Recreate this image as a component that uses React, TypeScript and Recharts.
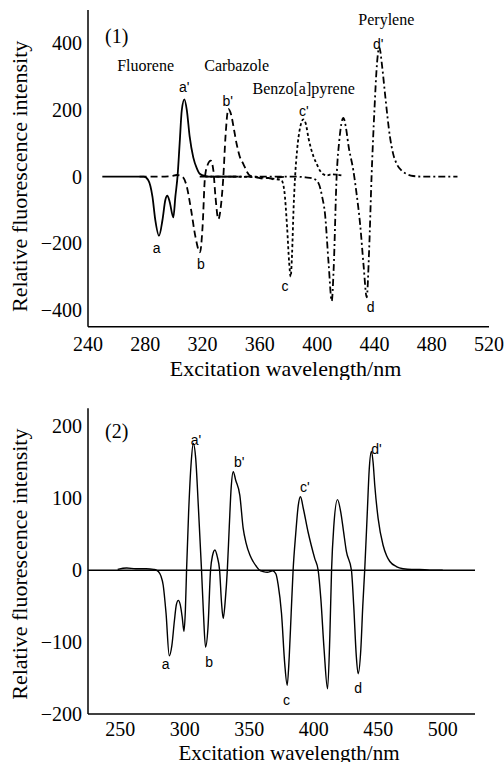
import React from 'react';
import { LineChart, Line, XAxis, YAxis, ReferenceDot, ReferenceLine } from 'recharts';

// ---------- Panel (1) data ----------
const fluoreneX = [250, 270, 279, 282, 285, 287, 289.6, 292, 294, 295.4, 297, 299.6, 301, 302.5, 304, 305.5, 307.3, 309, 311, 313.5, 316, 318, 322, 326, 335, 345];
const fluoreneY = [0, 0, 0, -10, -60, -130, -177, -130, -70, -57, -75, -122, -60, 0, 100, 200, 232, 200, 120, 58, 25, 9, 2, 0, 0, 0];

const carbazoleX = [276, 290, 298, 302, 306, 309, 312, 315, 318.2, 320, 321.7, 323.5, 325.7, 327.5, 329, 331, 333, 334.5, 336, 338, 340, 342, 343.8, 346, 348.5, 351, 353, 358, 362, 366, 370, 373, 378];
const carbazoleY = [0, 0, 2, 5, 0, -30, -100, -180, -227, -150, 0, 35, 48, 20, -60, -127, -80, 0, 120, 203, 185, 140, 98, 60, 38, 15, 3, -2, -6, -4, -8, -3, 0];

const benzoX = [322, 340, 360, 368, 372, 375, 377, 379, 380.5, 381.5, 382.5, 383.5, 384.6, 386, 388, 390.4, 392, 394, 395.5, 397.5, 399.7, 402, 404, 407, 410, 414, 418];
const benzoY = [0, 0, -2, -5, -8, -10, -40, -150, -260, -300, -230, -100, 0, 80, 145, 172, 160, 115, 88, 60, 38, 18, 8, 4, 7, 6, 3];

const peryleneX = [318, 340, 360, 385.7, 392, 397, 401, 403.5, 405.5, 408, 410.2, 411.5, 413.6, 415.5, 418.3, 420, 422, 425.3, 427.5, 430, 432.5, 434.6, 436.3, 438, 440, 441.8, 443.4, 445.4, 447.4, 450.9, 453, 455.6, 459, 462.6, 467, 475, 490, 498];
const peryleneY = [0, 0, 0, 0, -2, -5, -20, -60, -112, -260, -373, -280, 0, 110, 176, 150, 90, 18, -50, -142, -270, -362, -220, 0, 200, 340, 388, 330, 248, 118, 70, 38, 18, 8, 2, 0, 0, 0];

const topXTicks = [240, 280, 320, 360, 400, 440, 480, 520];
const topYTicks = [-400, -200, 0, 200, 400];

const topSerifNotes = [
  { text: '(1)', x: 260, y: 423, big: true },
  { text: 'Fluorene', x: 280.2, y: 335, big: false },
  { text: 'Carbazole', x: 343.8, y: 335, big: false },
  { text: 'Benzo[a]pyrene', x: 390.6, y: 266, big: false },
  { text: 'Perylene', x: 448.3, y: 471, big: false },
];
const topPeakNotes = [
  { text: "a'", x: 307.2, y: 270 },
  { text: "b'", x: 337.6, y: 226 },
  { text: "c'", x: 390.8, y: 198 },
  { text: "d'", x: 442.7, y: 398 },
  { text: 'a', x: 288, y: -215 },
  { text: 'b', x: 318.9, y: -262 },
  { text: 'c', x: 377.6, y: -327 },
  { text: 'd', x: 437.4, y: -392 },
];

// ---------- Panel (2) data ----------
const mixX = [248, 255, 262, 270, 276, 278, 279.5, 281.5, 283.3, 285.5, 288, 290, 292, 293.5, 295, 296.5, 298, 299.4, 300.5, 301.4, 303, 305, 306.6, 308.5, 310.5, 313, 314.5, 316.1, 318, 320, 321.5, 323.4, 325.3, 327, 328.5, 329.8, 331.5, 333, 334.5, 336, 337.6, 339.5, 342.7, 345.3, 347.5, 350.5, 353, 355.6, 358, 360.8, 364, 368.2, 370.6, 372.4, 375, 377.5, 379.4, 381, 382.5, 384, 386, 388, 389.7, 392, 395.6, 398, 400.8, 403.4, 405.5, 408, 410.7, 412.5, 413.8, 415.5, 418.4, 421, 423, 425.3, 429.2, 431, 433, 434.4, 436.5, 438, 439.5, 441.5, 443, 444.7, 446, 447.3, 449.9, 453.7, 456.5, 459, 464, 469.2, 476, 482, 490, 500];
const mixY = [1, 3, 2, 2, 1, 0, -2, -8, -21, -60, -119, -105, -70, -48, -42, -48, -65, -85, -55, 0, 80, 150, 176, 155, 90, 0, -60, -107, -80, 0, 20, 28, 18, 0, -45, -67, -40, 0, 60, 115, 137, 125, 104, 58, 38, 21, 12, 5, 0, -2, -3, -1, -5, -20, -60, -130, -160, -120, -60, 0, 50, 90, 102, 85, 53, 35, 16, 0, -40, -110, -165, -90, 0, 60, 98, 80, 55, 26, 0, -50, -120, -144, -110, -50, 0, 80, 140, 165, 150, 118, 72, 35, 20, 12, 5, 2, 1, 1, 0, 0];

const botXTicks = [250, 300, 350, 400, 450, 500];
const botYTicks = [-200, -100, 0, 100, 200];

const botSerifNotes = [{ text: '(2)', x: 247.2, y: 193, big: true }];
const botPeakNotes = [
  { text: "a'", x: 308.7, y: 181 },
  { text: "b'", x: 342.2, y: 151 },
  { text: "c'", x: 393.1, y: 116 },
  { text: "d'", x: 448.6, y: 169 },
  { text: 'a', x: 285.2, y: -131 },
  { text: 'b', x: 319, y: -128 },
  { text: 'c', x: 378.9, y: -181 },
  { text: 'd', x: 434.4, y: -164 },
];

// ---------- helpers ----------
const SERIF = "'Liberation Serif', 'Times New Roman', serif";
const SANS = "'Liberation Sans', Arial, sans-serif";
const pts = (xs: number[], ys: number[]) => xs.map((x, i) => ({ x, y: ys[i] }));
const fmt = (v: number) => (v < 0 ? `\u2212${Math.abs(v)}` : `${v}`);
const tickStyle = { fill: '#000', fontSize: 20, fontFamily: SERIF };

const noteShape = (text: string, size: number, family: string) => (p: any) => (
  <text x={p.cx} y={p.cy} textAnchor="middle" dominantBaseline="central" fontSize={size} fontFamily={family} fill="#000">
    {text}
  </text>
);

const YLab = (dy: number) => (p: any) => {
  const vb = p.viewBox || { x: 0, y: 0, width: 88, height: 300 };
  const cx = 20;
  const cy = vb.y + vb.height / 2 + dy;
  return (
    <text x={cx} y={cy} transform={`rotate(-90 ${cx} ${cy})`} textAnchor="middle" dominantBaseline="central" fontSize={22} fontFamily={SERIF} fill="#000">
      Relative fluorescence intensity
    </text>
  );
};

export default function App() {
  return (
    <div style={{ position: 'absolute', left: 0, top: 0, width: 504, height: 762, background: '#fff', overflow: 'hidden' }}>
      <div style={{ position: 'absolute', left: 0, top: 0 }}>
        <LineChart width={504} height={380} margin={{ top: 10, right: 15, bottom: 0, left: 0 }}>
          <XAxis type="number" dataKey="x" domain={[240, 520]} ticks={topXTicks} allowDataOverflow height={53.3}
            axisLine={{ stroke: '#000', strokeWidth: 1.5 }} tickLine={false} tickSize={6} tickMargin={4} tick={tickStyle}
            label={{ value: 'Excitation wavelength/nm', position: 'insideBottom', offset: 4, dx: -3, fill: '#000', fontSize: 22, fontFamily: SERIF }} />
          <YAxis type="number" domain={[-450, 500]} ticks={topYTicks} allowDataOverflow width={88}
            axisLine={{ stroke: '#000', strokeWidth: 1.5 }} tickLine={false} tickSize={6} tickMargin={0} tick={tickStyle}
            tickFormatter={fmt} label={{ content: YLab(8) }} />
          <Line data={pts(fluoreneX, fluoreneY)} dataKey="y" type="monotone" stroke="#000" strokeWidth={1.8} dot={false} isAnimationActive={false} />
          <Line data={pts(carbazoleX, carbazoleY)} dataKey="y" type="monotone" stroke="#000" strokeWidth={1.8} strokeDasharray="7 4" dot={false} isAnimationActive={false} />
          <Line data={pts(benzoX, benzoY)} dataKey="y" type="monotone" stroke="#000" strokeWidth={1.8} strokeDasharray="3 2.5" dot={false} isAnimationActive={false} />
          <Line data={pts(peryleneX, peryleneY)} dataKey="y" type="monotone" stroke="#000" strokeWidth={1.8} strokeDasharray="7 3 2 3" dot={false} isAnimationActive={false} />
          {topSerifNotes.map((n) => (
            <ReferenceDot key={n.text} x={n.x} y={n.y} r={0} shape={noteShape(n.text, n.big ? 20 : 16, SERIF)} />
          ))}
          {topPeakNotes.map((n) => (
            <ReferenceDot key={n.text} x={n.x} y={n.y} r={0} shape={noteShape(n.text, 14, SANS)} />
          ))}
        </LineChart>
      </div>
      <div style={{ position: 'absolute', left: 0, top: 380 }}>
        <LineChart width={504} height={382} margin={{ top: 28.3, right: 29, bottom: 0, left: 0 }}>
          <XAxis type="number" dataKey="x" domain={[225, 525]} ticks={botXTicks} allowDataOverflow height={48}
            axisLine={{ stroke: '#000', strokeWidth: 1.5 }} tickLine={false} tickSize={6} tickMargin={2} tick={tickStyle}
            label={{ value: 'Excitation wavelength/nm', position: 'insideBottom', offset: 2, dx: 7.5, fill: '#000', fontSize: 21, fontFamily: SERIF }} />
          <YAxis type="number" domain={[-200, 225]} ticks={botYTicks} allowDataOverflow width={88}
            axisLine={{ stroke: '#000', strokeWidth: 1.5 }} tickLine={false} tickSize={6} tickMargin={0} tick={tickStyle}
            tickFormatter={fmt} label={{ content: YLab(3) }} />
          <ReferenceLine y={0} stroke="#000" strokeWidth={1.5} />
          <Line data={pts(mixX, mixY)} dataKey="y" type="monotone" stroke="#000" strokeWidth={1.4} dot={false} isAnimationActive={false} />
          {botSerifNotes.map((n) => (
            <ReferenceDot key={n.text} x={n.x} y={n.y} r={0} shape={noteShape(n.text, 20, SERIF)} />
          ))}
          {botPeakNotes.map((n) => (
            <ReferenceDot key={n.text} x={n.x} y={n.y} r={0} shape={noteShape(n.text, 14, SANS)} />
          ))}
        </LineChart>
      </div>
    </div>
  );
}
